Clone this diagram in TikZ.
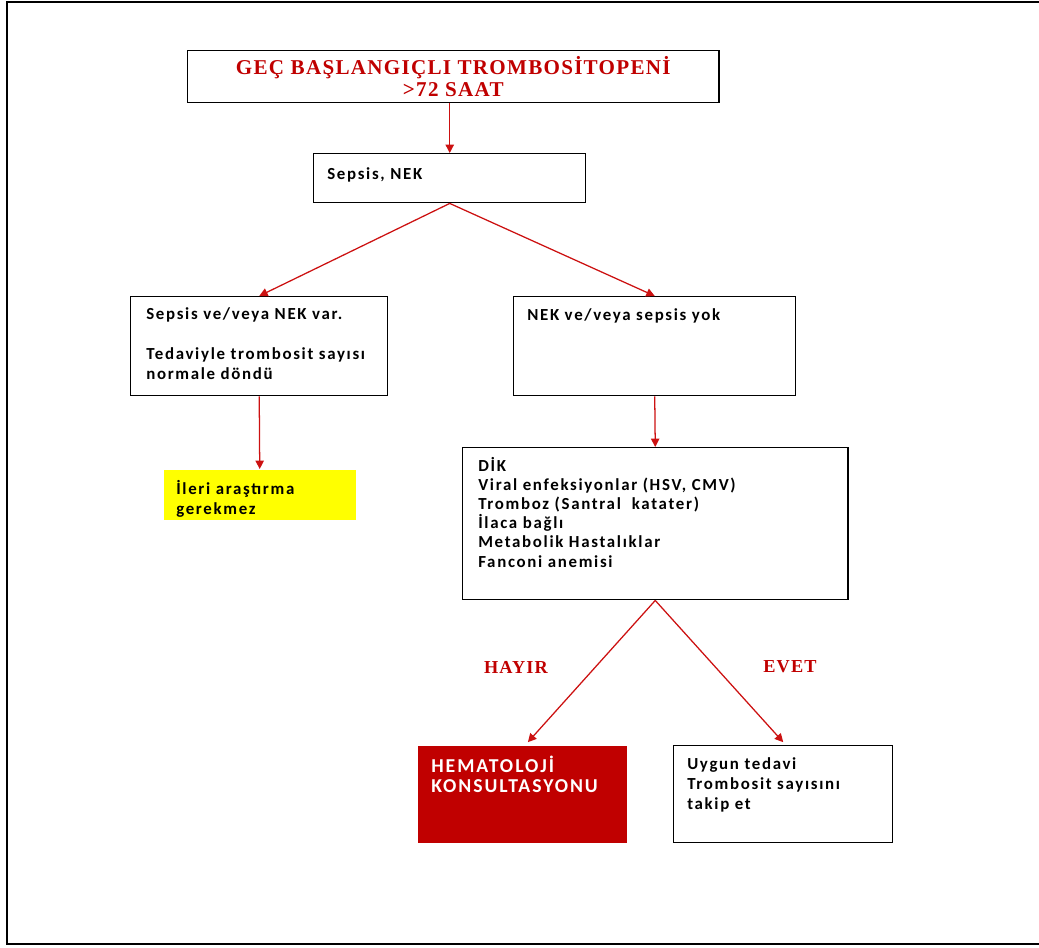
\documentclass[tikz,border=0pt]{standalone}
\usepackage{fontspec}
\setmainfont{Carlito}[LetterSpace=10]
\newfontfamily\titlefont{Liberation Serif}[LetterSpace=6]
\usetikzlibrary{arrows.meta,positioning}
\definecolor{flred}{HTML}{C00000}
\definecolor{flarrow}{HTML}{CC1111}
\definecolor{flyellow}{HTML}{FFFF00}

\begin{document}
\begin{tikzpicture}[x=0.025cm,y=-0.025cm,
  font=\bfseries\fontsize{12}{14.2}\selectfont,
  box/.style={draw=black,line width=1pt,fill=white,anchor=north west,inner sep=0pt},
  txt/.style={anchor=north west,inner sep=0pt,align=left},
  head/.style={font=\titlefont\bfseries\fontsize{15}{15.5}\selectfont,text=flred,align=center},
  ans/.style={font=\titlefont\bfseries\fontsize{13}{14}\selectfont,text=flred},
  arr/.style={-{Triangle[length=6pt,width=6pt]},line width=0.9pt,draw=flarrow},
]
\useasboundingbox (0,0) rectangle (1039,947);
% page frame, open on the right
\draw[line width=2.1pt] (1045,2) -- (7,2) -- (7,944) -- (1045,944);

% boxes
\node[box,head,minimum width=13.275cm,minimum height=1.3cm] (title) at (187,50)
  {GEÇ BAŞLANGIÇLI TROMBOSİTOPENİ\\>72 SAAT};
\node[box,minimum width=6.8cm,minimum height=1.225cm] (sepsis) at (313,153) {};
\node[box,minimum width=6.425cm,minimum height=2.475cm] (var) at (130,296) {};
\node[box,draw=none,fill=flyellow,minimum width=4.8cm,minimum height=1.25cm] (ileri) at (163,469) {};
\node[box,minimum width=7.05cm,minimum height=2.475cm] (yok) at (513,296) {};
\node[box,minimum width=9.625cm,minimum height=3.8cm] (dik) at (462,447) {};
\node[box,draw=none,fill=flred,minimum width=5.225cm,minimum height=2.425cm] (hema) at (417,745) {};
\node[box,minimum width=5.475cm,minimum height=2.425cm] (uygun) at (673,745) {};

% box texts
\node[txt] (sepsistxt) at (327,167) {Sepsis, NEK};
\node[txt] (vartxt) at (146,307) {Sepsis ve/veya NEK var.\\[\baselineskip]
  Tedaviyle trombosit sayısı\\normale döndü};
\node[txt] (ileritxt) at (176,480) {İleri araştırma\\gerekmez};
\node[txt] (yoktxt) at (527,308) {NEK ve/veya sepsis yok};
\node[txt,font=\bfseries\fontsize{12}{13.6}\selectfont] (diktxt) at (478,457)
  {DİK\\Viral enfeksiyonlar (HSV, CMV)\\Tromboz (Santral~ katater)\\İlaca bağlı\\
   Metabolik Hastalıklar\\Fanconi anemisi};
\node[txt,text=white,font=\bfseries\fontsize{14}{14.2}\selectfont] (hematxt) at (431,756)
  {HEMATOLOJİ\\KONSULTASYONU};
\node[txt] (uyguntxt) at (687,757) {Uygun tedavi\\Trombosit sayısını\\takip et};

% answers
\node[ans] (hayir) at (516,667) {HAYIR};
\node[ans] (evet) at (790,667) {EVET};

% connectors
\draw[arr] (sepsis.north |- title.south) -- (sepsis.north);
\draw[arr] (sepsis.south) -- (var.north);
\draw[arr] (sepsis.south) -- (yok.north);
\draw[arr] (var.south) -- (ileri.north);
\draw[arr] (yok.south) -- (dik.north);
\draw[arr] (dik.south) -- ([xshift=4pt,yshift=2pt]hema.north);
\draw[arr] (dik.south) -- ([yshift=2pt]uygun.north);
\end{tikzpicture}
\end{document}
